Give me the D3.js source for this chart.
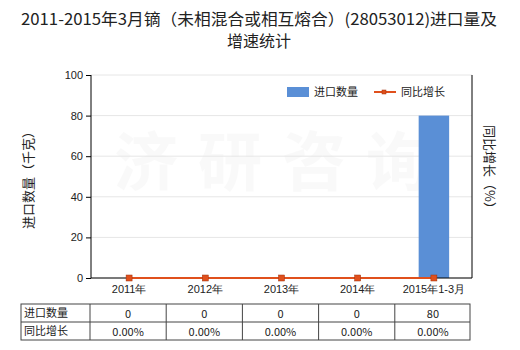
<!DOCTYPE html>
<html><head><meta charset="utf-8">
<script src="https://cdn.jsdelivr.net/npm/d3@7"></script>
<style>body{margin:0;background:#fff}svg{display:block;font-family:"Noto Sans CJK SC","Microsoft YaHei",sans-serif}</style>
</head><body><svg id="c" width="520" height="350"></svg>
<script>
const categories = ["2011年","2012年","2013年","2014年","2015年1-3月"];
const importQty = [0,0,0,0,80];
const growth = [0,0,0,0,0];
const growthLabels = ["0.00%","0.00%","0.00%","0.00%","0.00%"];
const yTicks = [0,20,40,60,80,100];
const titleLines = ["2011-2015年3月镝（未相混合或相互熔合）(28053012)进口量及","增速统计"];

const svg = d3.select("#c");
const L=91, R=472, T=75, B=278;
const x = d3.scaleBand().domain(categories).range([L,R]);
const y = d3.scaleLinear().domain([0,100]).range([B,T]);
const y2 = d3.scaleLinear().domain([0,100]).range([B,T]);

svg.append("g").selectAll("text").data(titleLines).join("text")
  .attr("x",259).attr("y",(d,i)=>25+i*22).attr("text-anchor","middle")
  .attr("font-size",16).attr("fill","#222")
  .attr("textLength",(d,i)=>i===0?476:null).attr("lengthAdjust","spacingAndGlyphs")
  .text(d=>d);

// watermark
svg.append("text").attr("x",282).attr("y",185).attr("text-anchor","middle")
  .attr("font-size",64).attr("font-weight","bold").attr("fill","#000").attr("opacity",0.02)
  .attr("letter-spacing",20).text("济研咨询");

// grid
svg.append("g").selectAll("line").data(yTicks).join("line")
  .attr("x1",L).attr("x2",R).attr("y1",d=>y(d)).attr("y2",d=>y(d))
  .attr("stroke","#e6e6e6");

// bars
svg.append("g").selectAll("rect").data(importQty).join("rect")
  .attr("x",(d,i)=>x(categories[i])+x.bandwidth()*0.3).attr("width",x.bandwidth()*0.4)
  .attr("y",d=>y(d)).attr("height",d=>B-y(d)).attr("fill","#5a8fd6");

// left axis
const ax = svg.append("g").attr("transform",`translate(${L},0)`)
  .call(d3.axisLeft(y).tickValues(yTicks).tickSize(5).tickPadding(3));
ax.select(".domain").attr("stroke","#000").attr("d",`M0,${T}V${B}`);
ax.selectAll(".tick line").attr("stroke","#000");
ax.selectAll("text").attr("font-size",11).attr("fill","#222").attr("font-family","Arial,Liberation Sans,sans-serif");

// bottom axis
const bx = svg.append("g").attr("transform",`translate(0,${B})`)
  .call(d3.axisBottom(x).tickSize(0).tickPadding(7));
bx.select(".domain").attr("stroke","#000").attr("d",`M${L},0H${R}`);
bx.selectAll("text").attr("font-size",11).attr("fill","#222");

// right axis
svg.append("line").attr("x1",R).attr("x2",R).attr("y1",T).attr("y2",B).attr("stroke","#000");

// growth line
const line = d3.line().x((d,i)=>x(categories[i])+x.bandwidth()/2).y(d=>y2(d));
svg.append("path").datum(growth).attr("d",line).attr("fill","none").attr("stroke","#e0501c").attr("stroke-width",2);
svg.append("g").selectAll("rect").data(growth).join("rect")
  .attr("x",(d,i)=>x(categories[i])+x.bandwidth()/2-3).attr("y",d=>y2(d)-3)
  .attr("width",6).attr("height",6).attr("fill","#e0501c").attr("stroke","#a0300c").attr("stroke-width",0.5);

// axis titles
svg.append("text").attr("transform","translate(33,177) rotate(-90)").attr("text-anchor","middle")
  .attr("font-size",13).attr("fill","#222").text("进口数量（千克）");
svg.append("text").attr("transform","translate(485,170) rotate(90)").attr("text-anchor","middle")
  .attr("font-size",13).attr("fill","#222").text("同比增长（%）");

// legend
const lg = svg.append("g");
lg.append("rect").attr("x",287).attr("y",87).attr("width",22).attr("height",10).attr("fill","#5a8fd6");
lg.append("text").attr("x",314).attr("y",96).attr("font-size",11).attr("fill","#222").text("进口数量");
lg.append("line").attr("x1",374).attr("x2",396).attr("y1",92).attr("y2",92).attr("stroke","#e0501c").attr("stroke-width",2);
lg.append("rect").attr("x",382).attr("y",90).attr("width",4).attr("height",4).attr("fill","#e0501c").attr("stroke","#a0300c").attr("stroke-width",0.5);
lg.append("text").attr("x",401).attr("y",96).attr("font-size",11).attr("fill","#222").text("同比增长");

// table
const tL=21, tT=304, rowH=18;
const tbl = svg.append("g");
const rows = [["进口数量", importQty.map(String)],["同比增长", growthLabels]];
const colX = [tL, ...categories.map(c=>x(c)-1), R-2];
rows.forEach((r,ri)=>{
  tbl.append("text").attr("x",tL+3).attr("y",tT+ri*rowH+13).attr("font-size",11).attr("fill","#222").text(r[0]);
  r[1].forEach((v,ci)=>{
    tbl.append("text").attr("x",x(categories[ci])+x.bandwidth()/2-1).attr("y",tT+ri*rowH+14)
      .attr("text-anchor","middle").attr("font-size",11).attr("fill","#222").text(v);
  });
});
tbl.append("rect").attr("x",tL).attr("y",tT).attr("width",R-2-tL).attr("height",rowH*2)
  .attr("fill","none").attr("stroke","#444");
tbl.append("line").attr("x1",tL).attr("x2",R-2).attr("y1",tT+rowH).attr("y2",tT+rowH).attr("stroke","#444");
tbl.selectAll(".v").data(colX.slice(1,-1)).join("line")
  .attr("x1",d=>d).attr("x2",d=>d).attr("y1",tT).attr("y2",tT+rowH*2).attr("stroke","#444");
</script></body></html>
